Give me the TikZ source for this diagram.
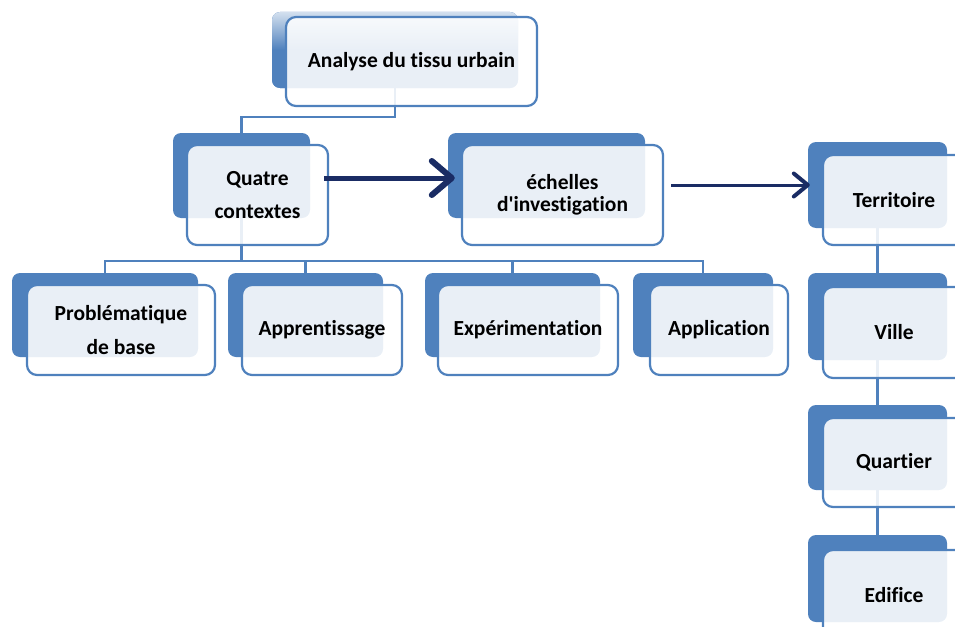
\documentclass[tikz,border=0pt]{standalone}
\usepackage{fontspec}
\setmainfont{Carlito}[Ligatures={NoCommon}]
\usetikzlibrary{arrows.meta,calc,backgrounds}
\definecolor{blueA}{RGB}{79,129,189}
\definecolor{navyA}{RGB}{26,44,100}
\tikzset{
  bk/.style 2 args={fill=blueA, rounded corners=8pt, inner sep=0pt,
    minimum width=#1pt, minimum height=#2pt},
  fr/.style 2 args={draw=blueA, line width=2.2pt, fill=white, fill opacity=0.88,
    text opacity=1, rounded corners=10pt, inner sep=0pt, align=center,
    font=\bfseries\fontsize{21.5}{26}\selectfont, text=black,
    minimum width=#1pt, minimum height=#2pt},
  conn/.style={draw=blueA, line width=2.2pt},
}
\begin{document}
\begin{tikzpicture}[x=1pt,y=-1pt]
\useasboundingbox (0,0) rectangle (955,626);
\clip (0,0) rectangle (955,626);

% top
\node[bk={246}{76}, top color=blueA!25, bottom color=blueA, middle color=blueA] (ab) at (395,50) {};
\node[fr={251}{89}] (af) at (411.5,61.5) {Analyse du tissu urbain};

% second row
\node[bk={137}{85}] (qb) at (241.5,175.5) {};
\node[fr={141}{100}] (qf) at (257.5,195) {Quatre\\[7pt]contextes};

\node[bk={197}{85}] (eb) at (546.5,175.5) {};
\node[fr={201}{100}] (ef) at (562.5,195) {échelles\\[-4pt]d\textquotesingle investigation};

% right column
\node[bk={139}{86}] (tb) at (877.5,185) {};
\node[fr={142}{90}] (tf) at (894,200) {Territoire};

\node[bk={139}{87}] (vb) at (877.5,316.5) {};
\node[fr={142}{91}] (vf) at (894,332.5) {Ville};

\node[bk={139}{85}] (qub) at (877.5,447.5) {};
\node[fr={142}{89}] (quf) at (894,462.5) {Quartier};

\node[bk={139}{87}] (edb) at (877.5,578.5) {};
\node[fr={142}{90}] (edf) at (894,595) {Edifice};

% bottom row
\node[bk={186}{84}] (pb) at (105,315) {};
\node[fr={188}{90}] (pf) at (121,330) {Problématique\\[8pt]de base};

\node[bk={155}{84}] (apb) at (305.5,315) {};
\node[fr={160}{90}] (apf) at (322,330) {Apprentissage};

\node[bk={175}{84}] (xb) at (512.5,315) {};
\node[fr={180}{90}] (xf) at (528,330) {Expérimentation};

\node[bk={140}{84}] (alb) at (703,315) {};
\node[fr={138}{90}] (alf) at (719,330) {Application};

% arrows
\coordinate (a1s) at ([xshift=-5pt,yshift=17pt]qf.east);
\coordinate (a1e) at (a1s -| eb.west);
\draw[navyA, line width=5pt,
  -{Straight Barb[length=20pt,width=34pt,line width=6pt 0 0,round]}]
  (a1s) -- ([xshift=7pt]a1e);

\coordinate (a2s) at ([xshift=7pt,yshift=10pt]ef.east);
\coordinate (a2e) at (a2s -| tb.west);
\draw[navyA, line width=3pt,
  -{Straight Barb[length=14pt,width=23pt,line width=4pt 0 0,round]}]
  (a2s) -- ([xshift=2pt]a2e);

% connectors behind
\begin{scope}[on background layer]
  \draw[conn] (ab.center) |- ($(af.south)!0.4!(qb.north)$) -| (qb.north);
  \coordinate (j1) at ($(qb.center |- qf.south)+(0,15)$);
  \draw[conn] (qb.center) -- (j1);
  \draw[conn] (j1) -| (pb.north);
  \draw[conn] (j1) -| (apb.north);
  \draw[conn] (j1) -| (xb.north);
  \draw[conn] (j1) -| (alb.north);
  \draw[conn] (tb.center) -- (vb.north);
  \draw[conn] (vb.center) -- (qub.north);
  \draw[conn] (qub.center) -- (edb.north);
\end{scope}
\end{tikzpicture}
\end{document}
